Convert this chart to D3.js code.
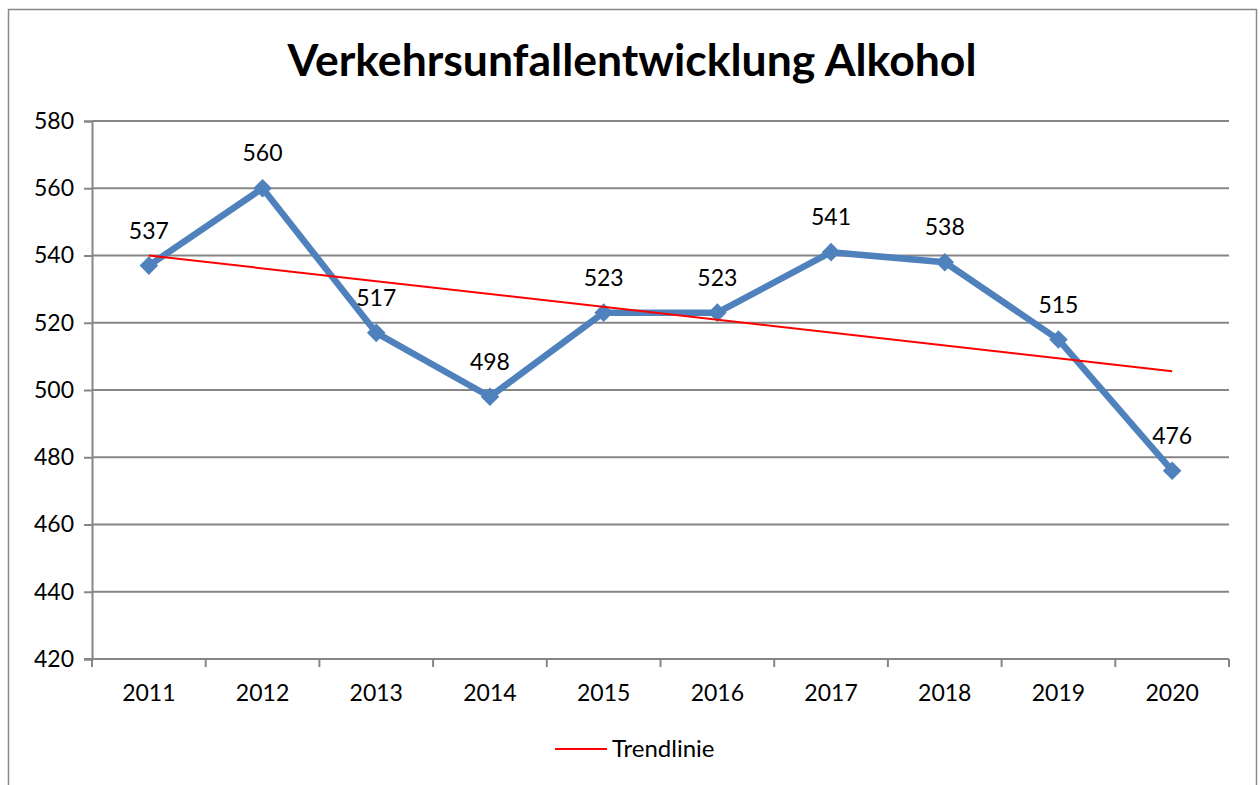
<!DOCTYPE html>
<html>
<head>
<meta charset="utf-8">
<script src="https://cdn.jsdelivr.net/npm/d3@7"></script>
<style>
  body { margin: 0; background: #fff; }
  svg text { font-family: Lato, "Open Sans", sans-serif; fill: #000; }
</style>
</head>
<body>
<script>
// data
var years = ["2011","2012","2013","2014","2015","2016","2017","2018","2019","2020"];
var accidents = [537, 560, 517, 498, 523, 523, 541, 538, 515, 476];
var trendEnds = [540, 505.6];  // trend line value at first and last year
var yTicks = [420, 440, 460, 480, 500, 520, 540, 560, 580];

var W = 1260, H = 785;
var svg = d3.select("body").append("svg").attr("width", W).attr("height", H);

// outer frame
svg.append("rect").attr("x", 8.5).attr("y", 9.5).attr("width", 1248).attr("height", 790)
  .attr("fill", "none").attr("stroke", "#888").attr("stroke-width", 1.5);

var pLeft = 92, pRight = 1229, pTop = 121, pBottom = 659;

var x = d3.scaleBand().domain(years).range([pLeft, pRight]);
var y = d3.scaleLinear().domain([420, 580]).range([pBottom, pTop]);

// grid lines
svg.append("g").selectAll("line").data(yTicks.slice(1)).enter().append("line")
  .attr("x1", pLeft).attr("x2", pRight)
  .attr("y1", function(d){ return y(d); }).attr("y2", function(d){ return y(d); })
  .attr("stroke", "#868686").attr("stroke-width", 2);

// y axis
var ya = svg.append("g").attr("transform", "translate(" + pLeft + ",0)")
  .call(d3.axisLeft(y).tickValues(yTicks).tickSize(8).tickPadding(10));
ya.select(".domain").attr("stroke", "#868686").attr("stroke-width", 2);
ya.selectAll(".tick line").attr("stroke", "#868686").attr("stroke-width", 2);
ya.selectAll("text").style("font-size", "23px").style("font-family", "Lato, sans-serif").attr("fill", "#000");

// x axis with ticks at category boundaries
var xa = svg.append("g").attr("transform", "translate(0," + pBottom + ")");
xa.append("line").attr("x1", pLeft - 8).attr("x2", pRight).attr("stroke", "#868686").attr("stroke-width", 2);
xa.selectAll(".xt").data(years).enter().append("line").attr("class", "xt")
  .attr("x1", function(d){ return x(d) + x.bandwidth(); })
  .attr("x2", function(d){ return x(d) + x.bandwidth(); })
  .attr("y1", 0).attr("y2", 8).attr("stroke", "#868686").attr("stroke-width", 2);
xa.append("line").attr("x1", pLeft).attr("x2", pLeft).attr("y1", 0).attr("y2", 8)
  .attr("stroke", "#868686").attr("stroke-width", 2);
xa.selectAll("text").data(years).enter().append("text")
  .attr("x", function(d){ return x(d) + x.bandwidth() / 2; })
  .attr("y", 42).attr("text-anchor", "middle").style("font-size", "23px")
  .text(function(d){ return d; });

var cx = function(d, i){ return x(years[i]) + x.bandwidth() / 2; };

// data line
svg.append("path").datum(accidents)
  .attr("fill", "none").attr("stroke", "#4F81BD").attr("stroke-width", 6.5)
  .attr("stroke-linejoin", "round")
  .attr("d", d3.line().x(cx).y(function(d){ return y(d); }));

// diamond markers
svg.append("g").selectAll("path").data(accidents).enter().append("path")
  .attr("transform", function(d, i){ return "translate(" + cx(d, i) + "," + y(d) + ")"; })
  .attr("d", d3.symbol().type(d3.symbolDiamond2).size(220))
  .attr("fill", "#4F81BD");

// trend line
svg.append("line")
  .attr("x1", cx(null, 0)).attr("y1", y(trendEnds[0]))
  .attr("x2", cx(null, years.length - 1)).attr("y2", y(trendEnds[1]))
  .attr("stroke", "#FF0000").attr("stroke-width", 2);

// data labels
svg.append("g").selectAll("text").data(accidents).enter().append("text")
  .attr("x", cx).attr("y", function(d){ return y(d) - 27; })
  .attr("text-anchor", "middle").style("font-size", "23px")
  .text(function(d){ return d; });

// title
svg.append("text").attr("x", 632).attr("y", 76).attr("text-anchor", "middle")
  .style("font-size", "44.5px").style("font-weight", "bold")
  .text("Verkehrsunfallentwicklung Alkohol");

// legend
svg.append("line").attr("x1", 555).attr("x2", 607).attr("y1", 749).attr("y2", 749)
  .attr("stroke", "#FF0000").attr("stroke-width", 2);
svg.append("text").attr("x", 612).attr("y", 757).style("font-size", "24px")
  .attr("fill", "#222").text("Trendlinie");
</script>
</body>
</html>
